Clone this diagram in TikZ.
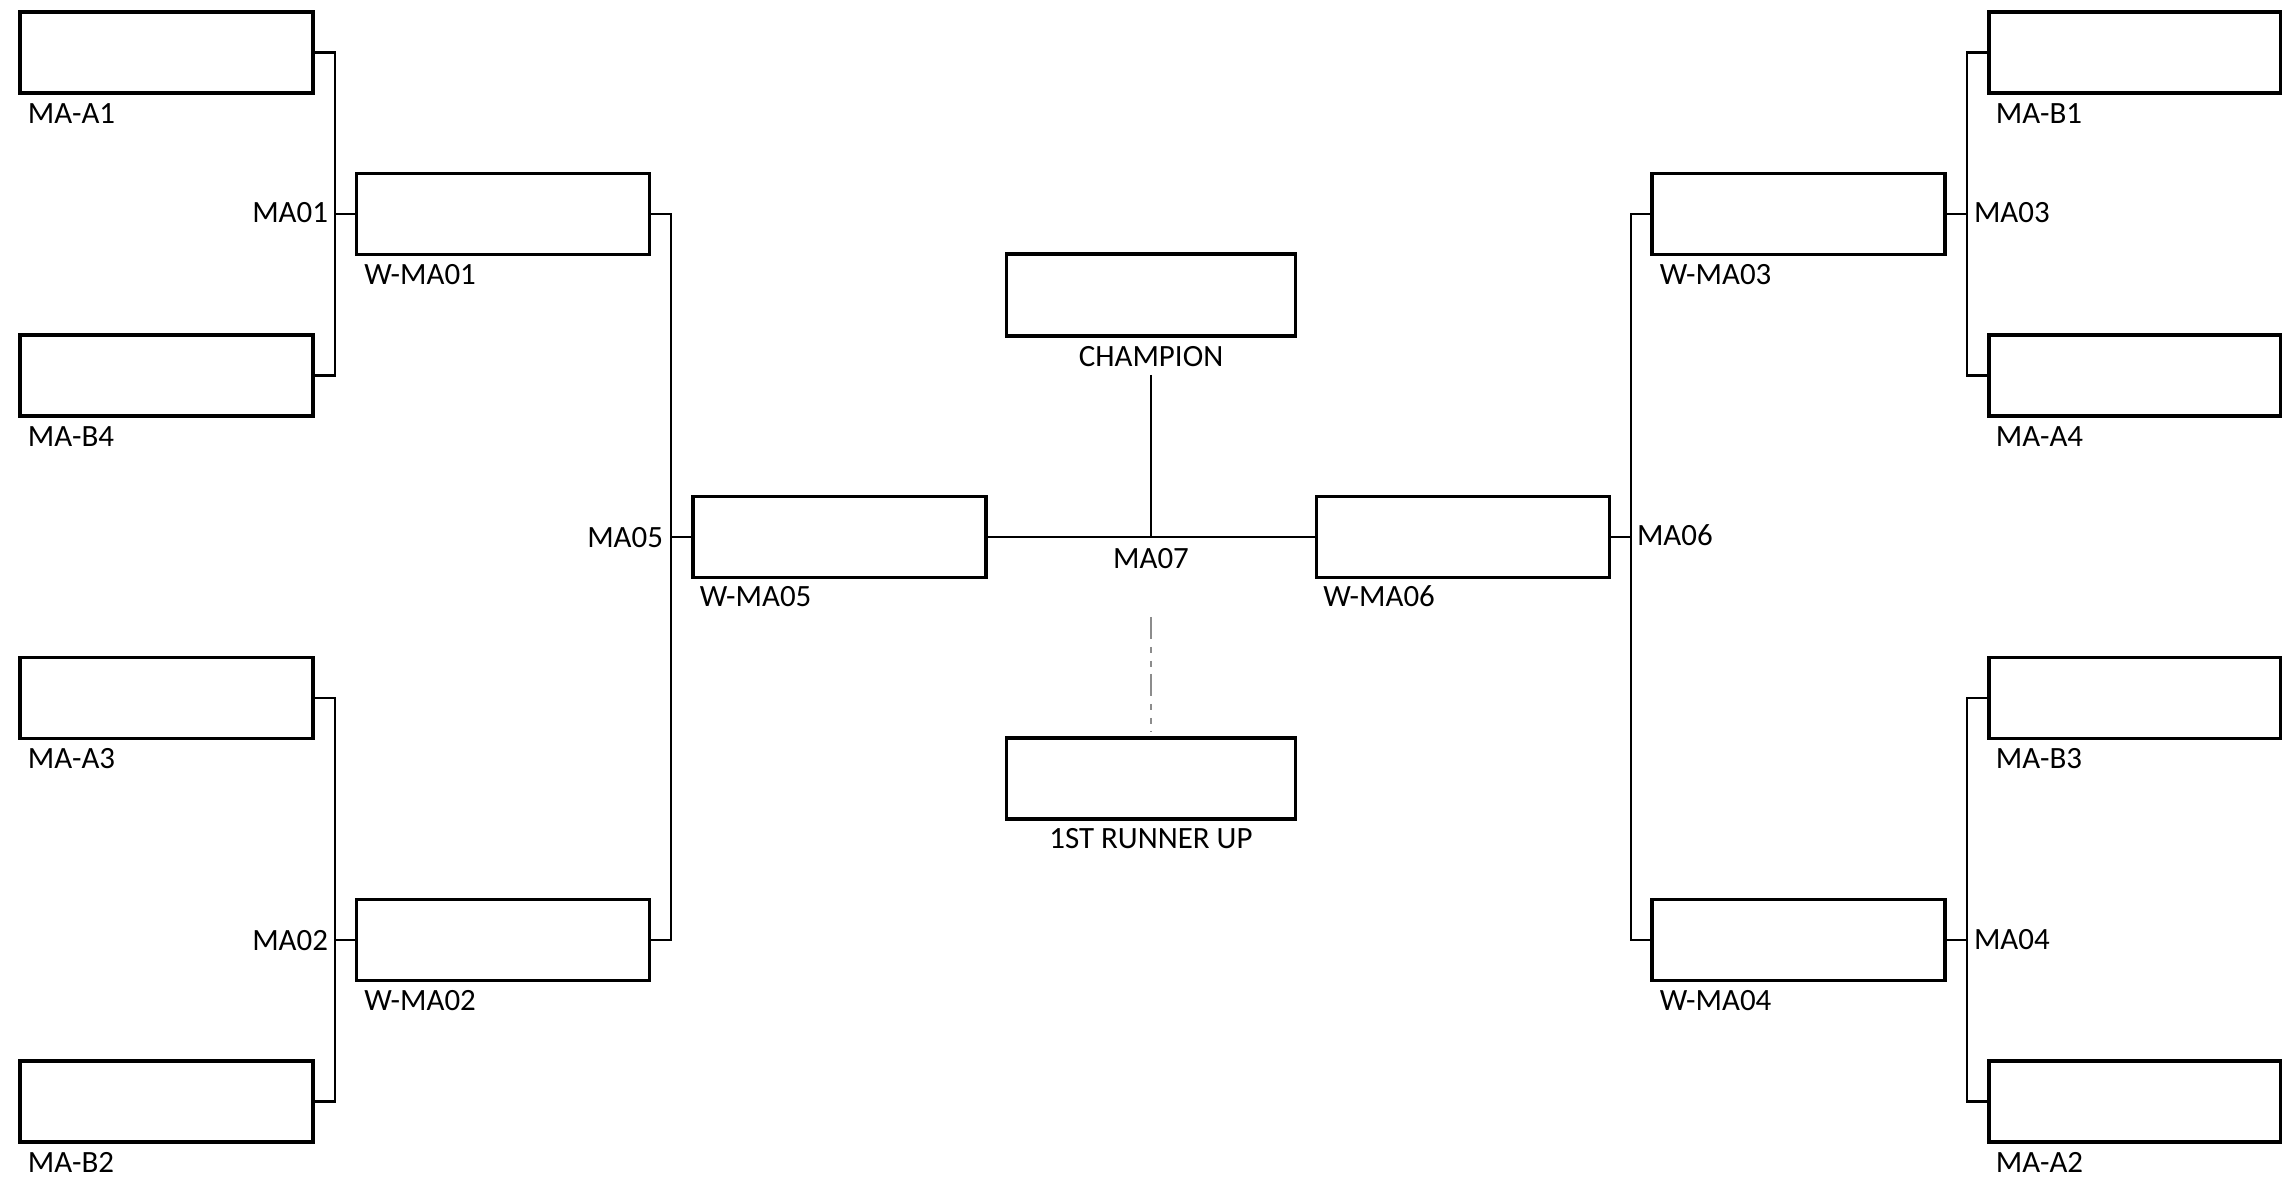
\documentclass[tikz,border=0pt]{standalone}
\usepackage{fontspec}
\setmainfont{Carlito}
\begin{document}
\begin{tikzpicture}[x=0.01cm,y=-0.01cm,
  slot/.style={draw=black,line width=0.95pt,fill=white,minimum width=2.93cm,minimum height=0.81cm,inner sep=0pt,outer sep=0pt},
  wire/.style={draw=black,line width=0.75pt},
  ghost/.style={draw=black!45,line width=0.6pt,dash pattern=on 6.2pt off 2.3pt on 1.7pt off 2.3pt on 1.7pt off 2.0pt},
  lbl/.style={inner sep=0pt,outer sep=0pt,font=\fontsize{8.8}{10.5}\selectfont}]
\useasboundingbox (0,0) rectangle (2282,1180);
% vertical bracket lines
\coordinate (v1) at (335,0);
\coordinate (v2) at (671,0);
\coordinate (v3) at (1631,0);
\coordinate (v4) at (1967,0);
% first round, left
\node[slot] (A1) at (166.5,52.5) {};
\node[slot] (B4) at (166.5,375.5) {};
\node[slot] (A3) at (166.5,698) {};
\node[slot] (B2) at (166.5,1101.5) {};
% second round, left
\node[slot] (W1) at (503,214) {};
\node[slot] (W2) at (503,940) {};
% semi final
\node[slot] (W5) at (839.5,537) {};
\node[slot] (W6) at (1463,537) {};
% center
\node[slot,minimum width=2.89cm,minimum height=0.82cm] (CH) at (1151,295) {};
\node[slot,minimum width=2.89cm,minimum height=0.81cm] (RU) at (1151,778.5) {};
% second round, right
\node[slot] (W3) at (1798.5,214) {};
\node[slot] (W4) at (1798.5,940) {};
% first round, right
\node[slot,minimum width=2.92cm] (B1) at (2135,52.5) {};
\node[slot,minimum width=2.92cm] (A4) at (2135,375.5) {};
\node[slot,minimum width=2.92cm] (B3) at (2135,698) {};
\node[slot,minimum width=2.92cm] (A2) at (2135,1101.5) {};

% junction coordinates
\coordinate (j1) at (v1 |- W1.west);
\coordinate (j2) at (v1 |- W2.west);
\coordinate (j5) at (v2 |- W5.west);
\coordinate (j3) at (v4 |- W3.east);
\coordinate (j4) at (v4 |- W4.east);
\coordinate (j6) at (v3 |- W6.east);
\coordinate (j7) at (1151,537);
\coordinate (chend) at (1151,375);
\coordinate (rutop) at (1151,617);
\coordinate (rubot) at (1151,732);

% connectors left
\draw[wire] (A1.east) -- (A1.east -| v1) |- (B4.east);
\draw[wire] (W1.west) -- (j1);
\draw[wire] (A3.east) -- (A3.east -| v1) |- (B2.east);
\draw[wire] (W2.west) -- (j2);
\draw[wire] (W1.east) -- (W1.east -| v2) |- (W2.east);
\draw[wire] (W5.west) -- (j5);
% center
\draw[wire] (W5.east) -- (W6.west);
\draw[wire] (chend) -- (j7);
\draw[ghost] (rutop) -- (rubot);
% connectors right
\draw[wire] (B1.west) -- (B1.west -| v4) |- (A4.west);
\draw[wire] (W3.east) -- (j3);
\draw[wire] (B3.west) -- (B3.west -| v4) |- (A2.west);
\draw[wire] (W4.east) -- (j4);
\draw[wire] (W3.west) -- (W3.west -| v3) |- (W4.west);
\draw[wire] (W6.east) -- (j6);

% slot labels
\node[lbl,anchor=base west] (tA1) at ([xshift=0.08cm,yshift=-0.30cm]A1.south west) {MA-A1};
\node[lbl,anchor=base west] (tB4) at ([xshift=0.08cm,yshift=-0.30cm]B4.south west) {MA-B4};
\node[lbl,anchor=base west] (tA3) at ([xshift=0.08cm,yshift=-0.30cm]A3.south west) {MA-A3};
\node[lbl,anchor=base west] (tB2) at ([xshift=0.08cm,yshift=-0.30cm]B2.south west) {MA-B2};
\node[lbl,anchor=base west] (tW1) at ([xshift=0.08cm,yshift=-0.30cm]W1.south west) {W-MA01};
\node[lbl,anchor=base west] (tW2) at ([xshift=0.08cm,yshift=-0.30cm]W2.south west) {W-MA02};
\node[lbl,anchor=base west] (tW5) at ([xshift=0.07cm,yshift=-0.29cm]W5.south west) {W-MA05};
\node[lbl,anchor=base west] (tW6) at ([xshift=0.07cm,yshift=-0.29cm]W6.south west) {W-MA06};
\node[lbl,anchor=base west] (tW3) at ([xshift=0.08cm,yshift=-0.30cm]W3.south west) {W-MA03};
\node[lbl,anchor=base west] (tW4) at ([xshift=0.08cm,yshift=-0.30cm]W4.south west) {W-MA04};
\node[lbl,anchor=base west] (tB1) at ([xshift=0.07cm,yshift=-0.30cm]B1.south west) {MA-B1};
\node[lbl,anchor=base west] (tA4) at ([xshift=0.07cm,yshift=-0.30cm]A4.south west) {MA-A4};
\node[lbl,anchor=base west] (tB3) at ([xshift=0.07cm,yshift=-0.30cm]B3.south west) {MA-B3};
\node[lbl,anchor=base west] (tA2) at ([xshift=0.07cm,yshift=-0.30cm]A2.south west) {MA-A2};
\node[lbl,anchor=base] (tCH) at ([yshift=-0.30cm]CH.south) {CHAMPION};
\node[lbl,anchor=base] (tRU) at ([yshift=-0.29cm]RU.south) {1ST RUNNER UP};

% match labels
\node[lbl,anchor=base east] (m1) at ([xshift=-0.07cm,yshift=-0.09cm]j1) {MA01};
\node[lbl,anchor=base east] (m2) at ([xshift=-0.07cm,yshift=-0.10cm]j2) {MA02};
\node[lbl,anchor=base east] (m5) at ([xshift=-0.08cm,yshift=-0.10cm]j5) {MA05};
\node[lbl,anchor=base west] (m3) at ([xshift=0.07cm,yshift=-0.09cm]j3) {MA03};
\node[lbl,anchor=base west] (m4) at ([xshift=0.07cm,yshift=-0.09cm]j4) {MA04};
\node[lbl,anchor=base west] (m6) at ([xshift=0.06cm,yshift=-0.09cm]j6) {MA06};
\node[lbl,anchor=base] (m7) at ([yshift=-0.31cm]j7) {MA07};
\end{tikzpicture}
\end{document}
